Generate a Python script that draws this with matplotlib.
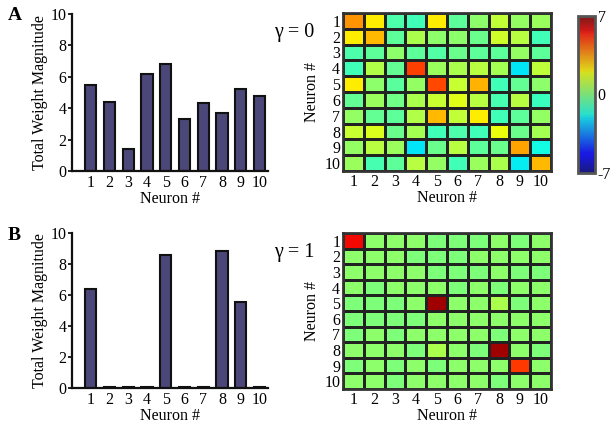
import numpy as np
import matplotlib
matplotlib.use("Agg")
import matplotlib.pyplot as plt
from matplotlib.colors import LinearSegmentedColormap

plt.rcParams['font.family'] = ['Liberation Serif', 'DejaVu Serif']

neurons = list(range(1, 11))
tick_labels = [str(n) for n in neurons]

bars_A = [5.5, 4.4, 1.4, 6.2, 6.8, 3.3, 4.3, 3.7, 5.2, 4.75]
bars_B = [6.4, 0.05, 0.05, 0.05, 8.6, 0.05, 0.05, 8.85, 5.55, 0.05]

W_A = [
    [3.5, 2.2, -0.8, -1.0, 2.2, -0.5, 0.3, 1.2, 0.4, 0.5],
    [2.2, 3.0, -0.5, 0.8, 0.3, 0.3, -0.3, 1.4, 1.0, -1.0],
    [-0.8, -0.5, 0.3, -0.5, -0.7, -0.3, -0.5, -0.5, 0.4, -0.5],
    [-1.0, 0.9, -0.4, 4.8, 0.5, 0.8, 1.0, 0.7, -2.1, 1.1],
    [2.2, 0.3, -0.6, 0.4, 4.7, 1.3, 3.1, -1.0, -0.4, 0.3],
    [-0.4, 0.5, -0.2, 0.8, 1.3, 1.7, 1.0, -0.9, 1.0, -1.1],
    [0.4, -0.4, -0.5, 0.9, 3.0, 1.2, 2.2, -1.0, -0.5, 0.4],
    [1.3, 1.6, -0.3, 0.7, -1.0, -0.8, -1.0, 1.9, -0.3, 0.7],
    [0.4, 1.0, 0.5, -2.1, -0.3, 1.0, -0.5, -0.3, 3.3, -1.8],
    [0.5, -0.9, -0.5, 1.0, 0.4, -1.0, 0.5, 0.8, -2.0, 3.0],
]

W_B = [
    [5.6, 0.3, 0.3, 0.3, 0.0, 0.0, 0.0, 0.3, 0.0, 0.3],
    [0.3, 0.3, 0.3, 0.0, 0.0, 0.0, 0.3, 0.3, 0.3, 0.3],
    [0.3, 0.3, 0.3, 0.3, 0.0, 0.0, 0.0, 0.3, 0.0, 0.0],
    [0.3, 0.0, 0.3, 0.3, 0.3, 0.0, 0.3, 0.0, 0.3, 0.3],
    [0.0, 0.0, 0.0, 0.3, 6.6, 0.3, 0.3, 0.8, 0.0, 0.3],
    [0.0, 0.0, 0.0, 0.0, 0.3, 0.3, 0.3, 0.3, 0.3, 0.3],
    [0.0, 0.3, 0.0, 0.3, 0.3, 0.3, 0.3, 0.0, 0.3, 0.3],
    [0.3, 0.3, 0.3, 0.0, 0.8, 0.3, 0.0, 6.6, 0.3, 0.0],
    [0.0, 0.3, 0.0, 0.3, 0.0, 0.3, 0.3, 0.3, 4.9, 0.3],
    [0.3, 0.3, 0.0, 0.3, 0.3, 0.3, 0.3, 0.0, 0.3, 0.3],
]

vmin, vmax = -7, 7
cbar_ticks = [-7, 0, 7]
cbar_labels = ['-7', '0', '7']

FW, FH = 613, 430
fig = plt.figure(figsize=(FW / 100, FH / 100), dpi=100)


def px_axes(x0, y0, x1, y1):
    return fig.add_axes([x0 / FW, 1 - y1 / FH, (x1 - x0) / FW, (y1 - y0) / FH])


bar_color = '#4b4778'
fs = 11.5


def bar_panel(ax, vals):
    ax.bar(neurons, vals, width=0.6, color=bar_color, edgecolor='#111111', linewidth=1.5)
    ax.set_xlim(0.0, 10.45)
    ax.set_ylim(0, 10)
    ax.set_yticks([0, 2, 4, 6, 8, 10])
    ax.set_xticks(neurons)
    ax.set_xticklabels(tick_labels)
    for s in ['top', 'right']:
        ax.spines[s].set_visible(False)
    for s in ['left', 'bottom']:
        ax.spines[s].set_linewidth(1.6)
        ax.spines[s].set_color('#111111')
    ax.tick_params(axis='x', length=0, pad=3, labelsize=fs)
    ax.tick_params(axis='y', length=3, width=1.2, pad=1, labelsize=fs, direction='out')
    ax.set_xlabel('Neuron #', fontsize=fs, labelpad=0)
    ax.set_ylabel('Total Weight Magnitude', fontsize=fs, labelpad=2)


def heat_panel(ax, W):
    edges = np.arange(0.5, 11.5, 1.0)
    m = ax.pcolormesh(edges, edges, np.array(W), cmap='jet', vmin=vmin, vmax=vmax,
                      edgecolors='#222222', linewidth=1.8)
    ax.set_xlim(0.5, 10.5)
    ax.set_ylim(10.5, 0.5)
    ax.set_xticks(neurons)
    ax.set_xticklabels(tick_labels)
    ax.set_yticks(neurons)
    ax.set_yticklabels(tick_labels)
    ax.tick_params(length=0, pad=2, labelsize=fs)
    for s in ax.spines.values():
        s.set_linewidth(2)
        s.set_color('#333333')
    ax.set_xlabel('Neuron #', fontsize=fs, labelpad=0)
    ax.set_ylabel('Neuron #', fontsize=fs, labelpad=3)
    return m


axA = px_axes(72, 14, 268, 171)
bar_panel(axA, bars_A)
axB = px_axes(72, 233, 268, 388)
bar_panel(axB, bars_B)

hA = px_axes(343, 13, 551, 171)
heat_panel(hA, W_A)
hB = px_axes(343, 233, 551, 389)
heat_panel(hB, W_B)

# muted jet colormap for colorbar
jet = plt.get_cmap('jet')
cols = jet(np.linspace(0, 1, 256))
cols[:, :3] = 0.78 * cols[:, :3] + 0.22 * 0.45
muted = LinearSegmentedColormap.from_list('muted_jet', cols)
cax = px_axes(578, 16, 595, 173)
norm = matplotlib.colors.Normalize(vmin=vmin, vmax=vmax)
cb = fig.colorbar(matplotlib.cm.ScalarMappable(norm=norm, cmap=muted), cax=cax)
cb.set_ticks(cbar_ticks)
cb.set_ticklabels(cbar_labels)
cb.ax.tick_params(length=0, pad=2, labelsize=fs)
cb.outline.set_linewidth(2)
cb.outline.set_edgecolor('#555555')

fig.text(294 / FW, 1 - 32 / FH, 'γ = 0', fontsize=14.5, ha='center', va='center')
fig.text(294 / FW, 1 - 252 / FH, 'γ = 1', fontsize=14.5, ha='center', va='center')
fig.text(8 / FW, 1 - 15 / FH, 'A', fontsize=14, fontweight='bold', ha='left', va='center')
fig.text(8 / FW, 1 - 235 / FH, 'B', fontsize=14, fontweight='bold', ha='left', va='center')

fig.savefig('out.png', dpi=100)
